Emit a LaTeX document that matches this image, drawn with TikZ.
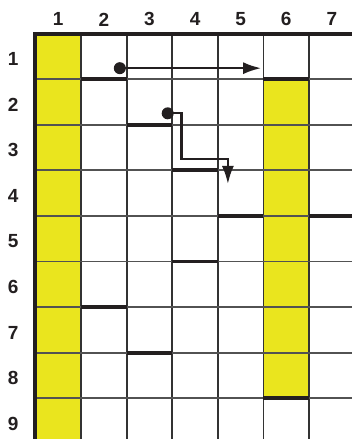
\documentclass[tikz,border=0pt]{standalone}
\usepackage{fontspec}
\setsansfont{Liberation Sans}
\usetikzlibrary{arrows.meta}
\definecolor{ink}{HTML}{231F20}
\definecolor{rule}{HTML}{333333}
\definecolor{lemon}{HTML}{EAE51E}

\begin{document}
\begin{tikzpicture}[x=45.6pt,y=-45.6pt,
    font=\sffamily\bfseries\fontsize{19}{19}\selectfont,text=ink,
    >={Latex[length=18pt,width=12pt]}]
  \useasboundingbox (-0.778,-0.735) rectangle (6.941,8.893);
  % shaded columns
  \fill[lemon] (0,0) rectangle (1,8.893);
  \fill[lemon] (5,1) rectangle (6,8);
  % grid
  \foreach \i in {1,...,6}
    \draw[rule,line width=1.9pt] (\i,0) -- (\i,8.893);
  \foreach \j in {1,...,8}
    \draw[rule!85,line width=1.9pt] (0,\j) -- (6.941,\j);
  \draw[ink,line width=4pt] (0,8.893) -- (0,0) -- (6.941,0);
  % walls
  \foreach \i/\j in {2/1,6/1,3/2,4/3,5/4,7/4,4/5,2/6,3/7,6/8}
    \draw[ink,line width=3.8pt] (\i-1,\j) -- (\i,\j);
  % labels
  \foreach \i in {1,...,7}
    \node (col\i) at (\i-0.5,-0.31) {\i};
  \foreach \j in {1,...,9}
    \node (row\j) at (-0.49,\j-0.44) {\j};
  % paths
  \coordinate (a1) at (1.85,0.76);
  \coordinate (b1) at (4.95,0.76);
  \fill[ink] (a1) circle (6pt);
  \draw[ink,line width=2.3pt,->] (a1) -- (b1);
  \coordinate (a2) at (2.9,1.75);
  \coordinate (b2) at (4.22,3.3);
  \fill[ink] (a2) circle (6pt);
  \draw[ink,line width=2.3pt,->] (a2) -| (3.2,2.75) -| (b2);
\end{tikzpicture}
\end{document}
